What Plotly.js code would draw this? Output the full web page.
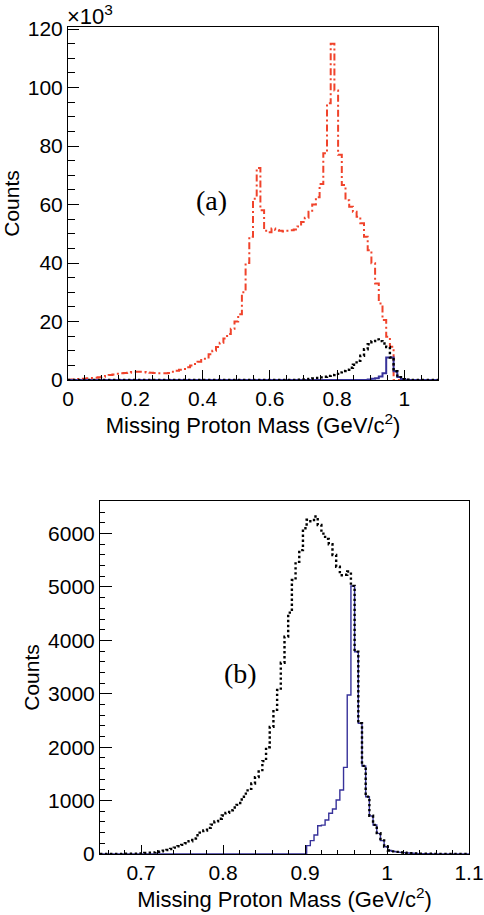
<!DOCTYPE html>
<html><head><meta charset="utf-8">
<script src="https://cdn.plot.ly/plotly-3.0.1.min.js"></script>
<style>html,body{margin:0;padding:0;background:#fff}#chart{width:484px;height:915px}</style>
</head><body><div id="chart"></div>
<script>
// ---------- Panel (a): 100 bins of 0.011 GeV/c^2 from 0, counts in thousands ----------
const binStartA = 0;
const binWidthA = 0.011;
const redA = [
  0.1,0.2,0.3,0.3,0.4,0.6,0.7,0.8,0.9,1.1,
  1.4,1.7,1.9,2.1,2.3,2.4,2.5,2.7,2.8,2.8,
  2.7,2.6,2.5,2.4,2.3,2.3,2.3,2.4,2.8,3.2,
  3.5,3.8,4.4,5.0,5.5,6.2,6.8,7.7,8.8,10.0,
  11.3,12.7,14.2,15.7,17.5,20.0,22.5,30,40,49,
  62,72.5,58,51,50.5,51.8,51.3,51,50.8,51,
  51.2,51.5,52.5,54,55.5,57.5,60,62.5,67,77.5,
  94.6,115,99,77,66.7,61.5,59.2,57.5,55.8,53.6,
  49,44.4,39.9,33,26.2,20.5,14.8,11.4,0,0,
  0,0,0,0,0,0,0,0,0,0
];
const blackA = [
  0,0,0,0,0,0,0,0,0,0,
  0,0,0,0,0,0,0,0,0,0,
  0,0,0,0,0,0,0,0,0,0,
  0,0,0,0,0,0,0,0,0,0,
  0,0,0,0,0,0,0,0,0,0,
  0,0,0,0,0,0,0,0,0,0,
  0,0,0.1,0.2,0.3,0.4,0.5,0.7,0.9,1.1,
  1.4,1.7,2.1,2.6,3.1,3.5,4.2,5.2,6.6,8.3,
  10.5,12.2,13.3,13.9,13.3,12.5,11.3,7.7,3.0,1.0,
  0.3,0.1,0,0,0,0,0,0,0,0
];
const blueA = [
  0,0,0,0,0,0,0,0,0,0,
  0,0,0,0,0,0,0,0,0,0,
  0,0,0,0,0,0,0,0,0,0,
  0,0,0,0,0,0,0,0,0,0,
  0,0,0,0,0,0,0,0,0,0,
  0,0,0,0,0,0,0,0,0,0,
  0,0,0,0,0,0,0,0,0,0,
  0,0,0,0,0,0,0,0,0,0,
  0,0.2,0.4,0.6,1.2,2.3,7.7,7.7,3.0,1.0,
  0.3,0.1,0,0,0,0,0,0,0,0
];
const yTicksA = [0,20,40,60,80,100,120];

// ---------- Panel (b): 100 bins of 0.0045 GeV/c^2 from 0.65, counts ----------
const binStartB = 0.65;
const binWidthB = 0.0045;
const blackB = [
  0,0,0,0,0,0,5,5,5,5,
  5,10,20,25,30,40,50,60,75,95,
  120,145,170,200,240,290,350,400,440,490,
  550,610,660,720,770,820,870,920,1020,1130,
  1220,1320,1440,1570,1740,2000,2380,2700,3070,3580,
  4070,4520,5130,5470,5690,6100,6260,6230,6320,6160,
  6000,5900,5800,5600,5380,5220,5230,5290,5020,3790,
  2450,1650,1075,715,545,390,255,140,65,50,
  40,30,25,20,15,10,5,5,5,5,
  0,0,0,0,0,0,0,0,0,0
];
const blueB = [
  0,0,0,0,0,0,0,0,0,0,
  0,0,0,0,0,0,0,0,0,0,
  0,0,0,0,0,0,0,0,0,0,
  0,0,0,0,0,0,0,0,0,0,
  0,0,0,0,0,0,0,0,0,0,
  0,0,0,0,0,0,156,250,356,530,
  540,637,762,843,1011,1199,1623,2978,5019,3788,
  2447,1648,1073,711,543,387,250,137,65,50,
  40,30,25,20,15,10,5,5,5,5,
  0,0,0,0,0,0,0,0,0,0
];
const yTicksB = [0,1000,2000,3000,4000,5000,6000];

// ---------- helpers: turn bin contents into ROOT-like step outlines ----------
function stepX(start, width, vals) {
  const xs = [start];
  for (let i = 0; i <= vals.length; i++) xs.push(+(start + i * width).toFixed(6));
  xs.push(+(start + vals.length * width).toFixed(6));
  return xs;
}
function stepY(vals) {
  return [0].concat(vals, [vals[vals.length - 1], 0]);
}

const RED = '#f0432b', BLACK = '#000000', BLUE = '#37329a';
const FONT = 'Liberation Sans, Arial, sans-serif';

function hist(start, width, vals, color, widthPx, dash, xa, ya) {
  return {
    type: 'scatter', mode: 'lines', xaxis: xa, yaxis: ya,
    x: stepX(start, width, vals), y: stepY(vals),
    line: {shape: 'hv', color: color, width: widthPx, dash: dash},
    hoverinfo: 'skip', showlegend: false
  };
}

const traces = [
  hist(binStartA, binWidthA, redA, RED, 2, '7px,3px,2px,3px', 'x', 'y'),
  hist(binStartA, binWidthA, blueA, BLUE, 2, 'solid', 'x', 'y'),
  hist(binStartA, binWidthA, blackA, BLACK, 2.4, '2.4px,2.6px', 'x', 'y'),
  hist(binStartB, binWidthB, blueB, BLUE, 1.4, 'solid', 'x2', 'y2'),
  hist(binStartB, binWidthB, blackB, BLACK, 2.4, '2.4px,2.6px', 'x2', 'y2')
];

const W = 484, H = 915;
function axisCommon() {
  return {
    showline: true, mirror: true, linecolor: '#000', linewidth: 1,
    showgrid: false, zeroline: false, ticks: 'inside', tickcolor: '#000',
    tickfont: {family: FONT, size: 21, color: '#000'}
  };
}

const layout = {
  width: W, height: H,
  margin: {l: 0, r: 0, t: 0, b: 0},
  paper_bgcolor: '#fff', plot_bgcolor: '#fff',
  showlegend: false,
  font: {family: FONT, color: '#000'},
  xaxis: Object.assign(axisCommon(), {
    domain: [68 / W, 438 / W], anchor: 'y',
    range: [0, 1.1], dtick: 0.2, tick0: 0, ticklen: 10,
    minor: {dtick: 0.05, ticklen: 5, ticks: 'inside', tickcolor: '#000'},
    title: {text: 'Missing Proton Mass (GeV/c<sup>2</sup>)', font: {family: FONT, size: 22, color: '#000'}, standoff: 4}
  }),
  yaxis: Object.assign(axisCommon(), {
    domain: [1 - 380 / H, 1 - 27 / H], anchor: 'x',
    range: [0, 120.7], tickvals: yTicksA, ticklen: 11,
    minor: {dtick: 5, ticklen: 7, ticks: 'inside', tickcolor: '#000'},
    title: {text: 'Counts', font: {family: FONT, size: 21, color: '#000'}, standoff: 2}
  }),
  xaxis2: Object.assign(axisCommon(), {
    domain: [100 / W, 469 / W], anchor: 'y2',
    range: [0.65, 1.1], dtick: 0.1, tick0: 0.7, ticklen: 9,
    minor: {dtick: 0.02, ticklen: 4, ticks: 'inside', tickcolor: '#000'},
    title: {text: 'Missing Proton Mass (GeV/c<sup>2</sup>)', font: {family: FONT, size: 22, color: '#000'}, standoff: 4}
  }),
  yaxis2: Object.assign(axisCommon(), {
    domain: [1 - 854 / H, 1 - 501 / H], anchor: 'x2',
    range: [0, 6610], tickvals: yTicksB, ticklen: 12,
    minor: {dtick: 200, ticklen: 5, ticks: 'inside', tickcolor: '#000'},
    title: {text: 'Counts', font: {family: FONT, size: 21, color: '#000'}, standoff: 2}
  }),
  annotations: [
    {xref: 'paper', yref: 'paper', x: 65 / W, y: 1 - 15 / H, xanchor: 'left', yanchor: 'middle',
     text: '×10<sup>3</sup>', showarrow: false, font: {family: FONT, size: 22, color: '#000'}},
    {xref: 'paper', yref: 'paper', x: 211 / W, y: 1 - 200 / H, xanchor: 'center', yanchor: 'middle',
     text: '(a)', showarrow: false, font: {family: 'Liberation Serif, Times New Roman, serif', size: 28, color: '#000'}},
    {xref: 'paper', yref: 'paper', x: 240 / W, y: 1 - 673 / H, xanchor: 'center', yanchor: 'middle',
     text: '(b)', showarrow: false, font: {family: 'Liberation Serif, Times New Roman, serif', size: 28, color: '#000'}}
  ]
};

Plotly.newPlot('chart', traces, layout, {staticPlot: true, displayModeBar: false});
</script>
</body></html>
